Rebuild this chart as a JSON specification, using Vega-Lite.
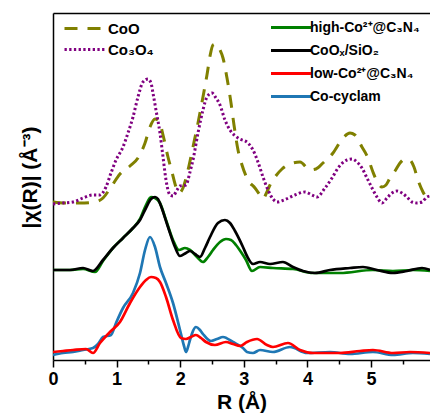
{
  "$schema": "https://vega.github.io/schema/vega-lite/v6.json",
  "width": 377,
  "height": 347,
  "autosize": {"type": "none"},
  "padding": {"left": 53, "top": 13, "right": 0, "bottom": 53},
  "background": "white",
  "config": {"view": {"stroke": null}, "font": "Liberation Sans"},
  "datasets": {
    "ref": [
      {"s":"CoO","r":0,"y":158},{"s":"CoO","r":0.189,"y":157},{"s":"CoO","r":0.425,"y":157},{"s":"CoO","r":0.66,"y":158},{"s":"CoO","r":0.786,"y":162},{"s":"CoO","r":0.912,"y":173},{"s":"CoO","r":1.053,"y":186},{"s":"CoO","r":1.211,"y":194},{"s":"CoO","r":1.336,"y":202},{"s":"CoO","r":1.447,"y":217},{"s":"CoO","r":1.525,"y":233},{"s":"CoO","r":1.604,"y":241},{"s":"CoO","r":1.667,"y":239},{"s":"CoO","r":1.73,"y":225},{"s":"CoO","r":1.808,"y":203},{"s":"CoO","r":1.871,"y":188},{"s":"CoO","r":1.934,"y":173},{"s":"CoO","r":1.981,"y":167},{"s":"CoO","r":2.044,"y":172},{"s":"CoO","r":2.123,"y":190},{"s":"CoO","r":2.201,"y":213},{"s":"CoO","r":2.28,"y":237},{"s":"CoO","r":2.358,"y":263},{"s":"CoO","r":2.421,"y":285},{"s":"CoO","r":2.469,"y":304},{"s":"CoO","r":2.516,"y":315},{"s":"CoO","r":2.563,"y":316},{"s":"CoO","r":2.626,"y":310},{"s":"CoO","r":2.673,"y":302},{"s":"CoO","r":2.736,"y":282},{"s":"CoO","r":2.799,"y":257},{"s":"CoO","r":2.846,"y":235},{"s":"CoO","r":2.909,"y":210},{"s":"CoO","r":2.972,"y":195},{"s":"CoO","r":3.066,"y":180},{"s":"CoO","r":3.176,"y":172},{"s":"CoO","r":3.255,"y":165},{"s":"CoO","r":3.302,"y":161},{"s":"CoO","r":3.349,"y":166},{"s":"CoO","r":3.412,"y":175},{"s":"CoO","r":3.491,"y":183},{"s":"CoO","r":3.601,"y":191},{"s":"CoO","r":3.726,"y":196},{"s":"CoO","r":3.884,"y":198},{"s":"CoO","r":4.041,"y":190},{"s":"CoO","r":4.135,"y":191},{"s":"CoO","r":4.245,"y":197},{"s":"CoO","r":4.403,"y":207},{"s":"CoO","r":4.56,"y":222},{"s":"CoO","r":4.67,"y":227},{"s":"CoO","r":4.748,"y":225},{"s":"CoO","r":4.858,"y":213},{"s":"CoO","r":4.953,"y":202},{"s":"CoO","r":5.031,"y":188},{"s":"CoO","r":5.11,"y":177},{"s":"CoO","r":5.173,"y":173},{"s":"CoO","r":5.236,"y":175},{"s":"CoO","r":5.299,"y":182},{"s":"CoO","r":5.377,"y":189},{"s":"CoO","r":5.456,"y":197},{"s":"CoO","r":5.535,"y":201},{"s":"CoO","r":5.613,"y":200},{"s":"CoO","r":5.676,"y":193},{"s":"CoO","r":5.739,"y":180},{"s":"CoO","r":5.818,"y":168},{"s":"CoO","r":5.896,"y":160},{"s":"CoO","r":5.928,"y":158},
      {"s":"Co₃O₄","r":0,"y":156},{"s":"Co₃O₄","r":0.157,"y":157},{"s":"Co₃O₄","r":0.314,"y":158},{"s":"Co₃O₄","r":0.472,"y":162},{"s":"Co₃O₄","r":0.629,"y":165},{"s":"Co₃O₄","r":0.739,"y":165},{"s":"Co₃O₄","r":0.833,"y":173},{"s":"Co₃O₄","r":0.912,"y":187},{"s":"Co₃O₄","r":0.991,"y":200},{"s":"Co₃O₄","r":1.101,"y":213},{"s":"Co₃O₄","r":1.179,"y":227},{"s":"Co₃O₄","r":1.258,"y":243},{"s":"Co₃O₄","r":1.336,"y":263},{"s":"Co₃O₄","r":1.415,"y":278},{"s":"Co₃O₄","r":1.494,"y":281},{"s":"Co₃O₄","r":1.541,"y":277},{"s":"Co₃O₄","r":1.572,"y":267},{"s":"Co₃O₄","r":1.619,"y":250},{"s":"Co₃O₄","r":1.682,"y":227},{"s":"Co₃O₄","r":1.73,"y":203},{"s":"Co₃O₄","r":1.777,"y":180},{"s":"Co₃O₄","r":1.84,"y":165},{"s":"Co₃O₄","r":1.887,"y":164},{"s":"Co₃O₄","r":1.95,"y":170},{"s":"Co₃O₄","r":1.997,"y":174},{"s":"Co₃O₄","r":2.091,"y":175},{"s":"Co₃O₄","r":2.154,"y":188},{"s":"Co₃O₄","r":2.201,"y":200},{"s":"Co₃O₄","r":2.28,"y":227},{"s":"Co₃O₄","r":2.358,"y":250},{"s":"Co₃O₄","r":2.421,"y":263},{"s":"Co₃O₄","r":2.5,"y":267},{"s":"Co₃O₄","r":2.563,"y":262},{"s":"Co₃O₄","r":2.626,"y":255},{"s":"Co₃O₄","r":2.704,"y":240},{"s":"Co₃O₄","r":2.783,"y":230},{"s":"Co₃O₄","r":2.909,"y":222},{"s":"Co₃O₄","r":3.066,"y":217},{"s":"Co₃O₄","r":3.145,"y":210},{"s":"Co₃O₄","r":3.223,"y":198},{"s":"Co₃O₄","r":3.302,"y":183},{"s":"Co₃O₄","r":3.381,"y":170},{"s":"Co₃O₄","r":3.459,"y":161},{"s":"Co₃O₄","r":3.522,"y":158},{"s":"Co₃O₄","r":3.632,"y":160},{"s":"Co₃O₄","r":3.805,"y":165},{"s":"Co₃O₄","r":3.962,"y":168},{"s":"Co₃O₄","r":4.072,"y":165},{"s":"Co₃O₄","r":4.151,"y":163},{"s":"Co₃O₄","r":4.277,"y":172},{"s":"Co₃O₄","r":4.387,"y":182},{"s":"Co₃O₄","r":4.481,"y":192},{"s":"Co₃O₄","r":4.623,"y":200},{"s":"Co₃O₄","r":4.701,"y":201},{"s":"Co₃O₄","r":4.78,"y":198},{"s":"Co₃O₄","r":4.858,"y":192},{"s":"Co₃O₄","r":4.937,"y":182},{"s":"Co₃O₄","r":5.016,"y":172},{"s":"Co₃O₄","r":5.094,"y":163},{"s":"Co₃O₄","r":5.173,"y":157},{"s":"Co₃O₄","r":5.252,"y":162},{"s":"Co₃O₄","r":5.33,"y":167},{"s":"Co₃O₄","r":5.409,"y":169},{"s":"Co₃O₄","r":5.487,"y":167},{"s":"Co₃O₄","r":5.566,"y":163},{"s":"Co₃O₄","r":5.645,"y":158},{"s":"Co₃O₄","r":5.723,"y":157},{"s":"Co₃O₄","r":5.802,"y":158},{"s":"Co₃O₄","r":5.881,"y":163},{"s":"Co₃O₄","r":5.928,"y":164}
    ],
    "sam": [
      {"s":"high-Co²⁺@C₃N₄","r":0,"y":90},{"s":"high-Co²⁺@C₃N₄","r":0.267,"y":90},{"s":"high-Co²⁺@C₃N₄","r":0.472,"y":91},{"s":"high-Co²⁺@C₃N₄","r":0.66,"y":88},{"s":"high-Co²⁺@C₃N₄","r":0.786,"y":99},{"s":"high-Co²⁺@C₃N₄","r":0.943,"y":112},{"s":"high-Co²⁺@C₃N₄","r":1.101,"y":122},{"s":"high-Co²⁺@C₃N₄","r":1.258,"y":132},{"s":"high-Co²⁺@C₃N₄","r":1.368,"y":141},{"s":"high-Co²⁺@C₃N₄","r":1.462,"y":155},{"s":"high-Co²⁺@C₃N₄","r":1.541,"y":163},{"s":"high-Co²⁺@C₃N₄","r":1.604,"y":162},{"s":"high-Co²⁺@C₃N₄","r":1.682,"y":157},{"s":"high-Co²⁺@C₃N₄","r":1.777,"y":140},{"s":"high-Co²⁺@C₃N₄","r":1.887,"y":120},{"s":"high-Co²⁺@C₃N₄","r":1.981,"y":110},{"s":"high-Co²⁺@C₃N₄","r":2.075,"y":112},{"s":"high-Co²⁺@C₃N₄","r":2.154,"y":110},{"s":"high-Co²⁺@C₃N₄","r":2.264,"y":103},{"s":"high-Co²⁺@C₃N₄","r":2.358,"y":98},{"s":"high-Co²⁺@C₃N₄","r":2.437,"y":103},{"s":"high-Co²⁺@C₃N₄","r":2.516,"y":110},{"s":"high-Co²⁺@C₃N₄","r":2.626,"y":118},{"s":"high-Co²⁺@C₃N₄","r":2.72,"y":121},{"s":"high-Co²⁺@C₃N₄","r":2.799,"y":120},{"s":"high-Co²⁺@C₃N₄","r":2.877,"y":115},{"s":"high-Co²⁺@C₃N₄","r":2.956,"y":108},{"s":"high-Co²⁺@C₃N₄","r":3.035,"y":100},{"s":"high-Co²⁺@C₃N₄","r":3.129,"y":89},{"s":"high-Co²⁺@C₃N₄","r":3.255,"y":93},{"s":"high-Co²⁺@C₃N₄","r":3.459,"y":92},{"s":"high-Co²⁺@C₃N₄","r":3.774,"y":91},{"s":"high-Co²⁺@C₃N₄","r":4.088,"y":87},{"s":"high-Co²⁺@C₃N₄","r":4.513,"y":87},{"s":"high-Co²⁺@C₃N₄","r":5.031,"y":90},{"s":"high-Co²⁺@C₃N₄","r":5.346,"y":89},{"s":"high-Co²⁺@C₃N₄","r":5.66,"y":90},{"s":"high-Co²⁺@C₃N₄","r":5.928,"y":89},
      {"s":"CoOₓ/SiO₂","r":0,"y":90},{"s":"CoOₓ/SiO₂","r":0.267,"y":90},{"s":"CoOₓ/SiO₂","r":0.472,"y":92},{"s":"CoOₓ/SiO₂","r":0.629,"y":89},{"s":"CoOₓ/SiO₂","r":0.786,"y":100},{"s":"CoOₓ/SiO₂","r":0.943,"y":112},{"s":"CoOₓ/SiO₂","r":1.101,"y":122},{"s":"CoOₓ/SiO₂","r":1.258,"y":132},{"s":"CoOₓ/SiO₂","r":1.368,"y":140},{"s":"CoOₓ/SiO₂","r":1.462,"y":152},{"s":"CoOₓ/SiO₂","r":1.541,"y":161},{"s":"CoOₓ/SiO₂","r":1.604,"y":163},{"s":"CoOₓ/SiO₂","r":1.651,"y":161},{"s":"CoOₓ/SiO₂","r":1.698,"y":154},{"s":"CoOₓ/SiO₂","r":1.808,"y":133},{"s":"CoOₓ/SiO₂","r":1.918,"y":113},{"s":"CoOₓ/SiO₂","r":1.997,"y":104},{"s":"CoOₓ/SiO₂","r":2.091,"y":107},{"s":"CoOₓ/SiO₂","r":2.154,"y":109},{"s":"CoOₓ/SiO₂","r":2.233,"y":106},{"s":"CoOₓ/SiO₂","r":2.311,"y":103},{"s":"CoOₓ/SiO₂","r":2.39,"y":112},{"s":"CoOₓ/SiO₂","r":2.469,"y":123},{"s":"CoOₓ/SiO₂","r":2.594,"y":137},{"s":"CoOₓ/SiO₂","r":2.704,"y":140},{"s":"CoOₓ/SiO₂","r":2.783,"y":137},{"s":"CoOₓ/SiO₂","r":2.862,"y":129},{"s":"CoOₓ/SiO₂","r":2.987,"y":113},{"s":"CoOₓ/SiO₂","r":3.05,"y":104},{"s":"CoOₓ/SiO₂","r":3.145,"y":96},{"s":"CoOₓ/SiO₂","r":3.255,"y":98},{"s":"CoOₓ/SiO₂","r":3.412,"y":96},{"s":"CoOₓ/SiO₂","r":3.616,"y":98},{"s":"CoOₓ/SiO₂","r":3.774,"y":93},{"s":"CoOₓ/SiO₂","r":3.931,"y":89},{"s":"CoOₓ/SiO₂","r":4.119,"y":87},{"s":"CoOₓ/SiO₂","r":4.355,"y":90},{"s":"CoOₓ/SiO₂","r":4.67,"y":92},{"s":"CoOₓ/SiO₂","r":4.874,"y":93},{"s":"CoOₓ/SiO₂","r":5.094,"y":90},{"s":"CoOₓ/SiO₂","r":5.346,"y":87},{"s":"CoOₓ/SiO₂","r":5.566,"y":89},{"s":"CoOₓ/SiO₂","r":5.802,"y":92},{"s":"CoOₓ/SiO₂","r":5.928,"y":90},
      {"s":"Co-cyclam","r":0,"y":5},{"s":"Co-cyclam","r":0.157,"y":7},{"s":"Co-cyclam","r":0.314,"y":8},{"s":"Co-cyclam","r":0.472,"y":10},{"s":"Co-cyclam","r":0.629,"y":12},{"s":"Co-cyclam","r":0.708,"y":16},{"s":"Co-cyclam","r":0.786,"y":23},{"s":"Co-cyclam","r":0.912,"y":25},{"s":"Co-cyclam","r":0.991,"y":37},{"s":"Co-cyclam","r":1.101,"y":52},{"s":"Co-cyclam","r":1.258,"y":67},{"s":"Co-cyclam","r":1.368,"y":87},{"s":"Co-cyclam","r":1.447,"y":110},{"s":"Co-cyclam","r":1.525,"y":123},{"s":"Co-cyclam","r":1.604,"y":113},{"s":"Co-cyclam","r":1.682,"y":93},{"s":"Co-cyclam","r":1.777,"y":77},{"s":"Co-cyclam","r":1.887,"y":57},{"s":"Co-cyclam","r":1.997,"y":30},{"s":"Co-cyclam","r":2.06,"y":14},{"s":"Co-cyclam","r":2.091,"y":8},{"s":"Co-cyclam","r":2.123,"y":13},{"s":"Co-cyclam","r":2.154,"y":20},{"s":"Co-cyclam","r":2.248,"y":33},{"s":"Co-cyclam","r":2.311,"y":30},{"s":"Co-cyclam","r":2.358,"y":26},{"s":"Co-cyclam","r":2.484,"y":19},{"s":"Co-cyclam","r":2.579,"y":21},{"s":"Co-cyclam","r":2.673,"y":23},{"s":"Co-cyclam","r":2.83,"y":18},{"s":"Co-cyclam","r":2.987,"y":12},{"s":"Co-cyclam","r":3.05,"y":8},{"s":"Co-cyclam","r":3.145,"y":7},{"s":"Co-cyclam","r":3.255,"y":10},{"s":"Co-cyclam","r":3.459,"y":8},{"s":"Co-cyclam","r":3.726,"y":13},{"s":"Co-cyclam","r":3.994,"y":7},{"s":"Co-cyclam","r":4.355,"y":8},{"s":"Co-cyclam","r":4.67,"y":6},{"s":"Co-cyclam","r":5.031,"y":8},{"s":"Co-cyclam","r":5.346,"y":5},{"s":"Co-cyclam","r":5.66,"y":7},{"s":"Co-cyclam","r":5.928,"y":6},
      {"s":"low-Co²⁺@C₃N₄","r":0,"y":8},{"s":"low-Co²⁺@C₃N₄","r":0.157,"y":9},{"s":"low-Co²⁺@C₃N₄","r":0.314,"y":10},{"s":"low-Co²⁺@C₃N₄","r":0.519,"y":11},{"s":"low-Co²⁺@C₃N₄","r":0.629,"y":7},{"s":"low-Co²⁺@C₃N₄","r":0.739,"y":17},{"s":"low-Co²⁺@C₃N₄","r":0.896,"y":28},{"s":"low-Co²⁺@C₃N₄","r":1.053,"y":38},{"s":"low-Co²⁺@C₃N₄","r":1.211,"y":57},{"s":"low-Co²⁺@C₃N₄","r":1.368,"y":73},{"s":"low-Co²⁺@C₃N₄","r":1.462,"y":80},{"s":"low-Co²⁺@C₃N₄","r":1.541,"y":83},{"s":"low-Co²⁺@C₃N₄","r":1.619,"y":82},{"s":"low-Co²⁺@C₃N₄","r":1.682,"y":78},{"s":"low-Co²⁺@C₃N₄","r":1.777,"y":63},{"s":"low-Co²⁺@C₃N₄","r":1.887,"y":40},{"s":"low-Co²⁺@C₃N₄","r":2.013,"y":22},{"s":"low-Co²⁺@C₃N₄","r":2.091,"y":21},{"s":"low-Co²⁺@C₃N₄","r":2.17,"y":23},{"s":"low-Co²⁺@C₃N₄","r":2.248,"y":25},{"s":"low-Co²⁺@C₃N₄","r":2.327,"y":22},{"s":"low-Co²⁺@C₃N₄","r":2.406,"y":18},{"s":"low-Co²⁺@C₃N₄","r":2.547,"y":15},{"s":"low-Co²⁺@C₃N₄","r":2.72,"y":18},{"s":"low-Co²⁺@C₃N₄","r":2.83,"y":16},{"s":"low-Co²⁺@C₃N₄","r":2.94,"y":14},{"s":"low-Co²⁺@C₃N₄","r":3.05,"y":18},{"s":"low-Co²⁺@C₃N₄","r":3.208,"y":21},{"s":"low-Co²⁺@C₃N₄","r":3.365,"y":15},{"s":"low-Co²⁺@C₃N₄","r":3.459,"y":13},{"s":"low-Co²⁺@C₃N₄","r":3.695,"y":17},{"s":"low-Co²⁺@C₃N₄","r":3.884,"y":10},{"s":"low-Co²⁺@C₃N₄","r":4.088,"y":7},{"s":"low-Co²⁺@C₃N₄","r":4.513,"y":7},{"s":"low-Co²⁺@C₃N₄","r":4.827,"y":9},{"s":"low-Co²⁺@C₃N₄","r":5.031,"y":10},{"s":"low-Co²⁺@C₃N₄","r":5.346,"y":7},{"s":"low-Co²⁺@C₃N₄","r":5.613,"y":8},{"s":"low-Co²⁺@C₃N₄","r":5.928,"y":7}
    ]
  },
  "layer": [
    {
      "data": {"name": "ref"},
      "mark": {"type": "line", "interpolate": "monotone", "strokeWidth": 3, "strokeCap": "butt", "clip": true},
      "encoding": {
        "x": {"field": "r", "type": "quantitative", "scale": {"domain": [0, 5.928], "nice": false, "zero": false},
          "axis": {"orient": "bottom", "title": "R (Å)", "values": [0, 0.5, 1, 1.5, 2, 2.5, 3, 3.5, 4, 4.5, 5, 5.5],
            "labelExpr": "datum.value % 1 === 0 ? '' + datum.value : ''",
            "tickSize": {"condition": {"test": "datum.value % 1 === 0", "value": 7}, "value": 4},
            "tickColor": "black", "tickWidth": 1.5, "domainColor": "black", "domainWidth": 1.5, "grid": false,
            "labelFont": "Liberation Sans", "labelFontSize": 18, "labelFontWeight": "bold", "labelColor": "black", "labelPadding": 3, "labelFlush": false,
            "titleFont": "Liberation Sans", "titleFontSize": 21, "titleFontWeight": "bold", "titleColor": "black", "titlePadding": 3}},
        "y": {"field": "y", "type": "quantitative", "scale": {"domain": [0, 347], "nice": false},
          "axis": {"title": "|χ(R)| (Å⁻³)", "ticks": false, "labels": false, "grid": false, "domainColor": "black", "domainWidth": 1.5,
            "titleFont": "Liberation Sans", "titleFontSize": 21, "titleFontWeight": "bold", "titleColor": "black", "titlePadding": 13, "titleY": 164}},
        "color": {"field": "s", "type": "nominal", "scale": {"domain": ["CoO", "Co₃O₄"], "range": ["#808000", "#800080"]},
          "legend": {"title": null, "orient": "none", "legendX": 9, "legendY": 8, "symbolType": "M-5,0H5", "symbolSize": 64, "symbolOffset": 15, "symbolStrokeWidth": 3,
            "labelFont": "Liberation Sans", "labelFontSize": 15, "labelFontWeight": "bold", "labelColor": "black", "labelOffset": 16, "rowPadding": 5, "padding": 0, "labelLimit": 300, "gridAlign": "all"}},
        "strokeDash": {"field": "s", "type": "nominal", "scale": {"domain": ["CoO", "Co₃O₄"], "range": [[13, 10], [2.3, 2.4]]},
          "legend": {"title": null, "orient": "none", "legendX": 9, "legendY": 8, "symbolType": "M-5,0H5", "symbolSize": 64, "symbolOffset": 15, "symbolStrokeWidth": 3,
            "labelFont": "Liberation Sans", "labelFontSize": 15, "labelFontWeight": "bold", "labelColor": "black", "labelOffset": 16, "rowPadding": 5, "padding": 0, "labelLimit": 300, "gridAlign": "all"}}
      }
    },
    {
      "data": {"name": "sam"},
      "mark": {"type": "line", "interpolate": "monotone", "strokeWidth": 2.7, "clip": true},
      "encoding": {
        "x": {"field": "r", "type": "quantitative",
          "axis": {"orient": "top", "title": null, "labels": false, "ticks": false, "grid": false, "domainColor": "black", "domainWidth": 1.5}},
        "y": {"field": "y", "type": "quantitative", "axis": null},
        "color": {"field": "s", "type": "nominal",
          "scale": {"domain": ["high-Co²⁺@C₃N₄", "CoOₓ/SiO₂", "low-Co²⁺@C₃N₄", "Co-cyclam"], "range": ["#008000", "#000000", "#ff0000", "#1f77b4"]},
          "legend": {"title": null, "orient": "none", "legendX": 215, "legendY": 7.5, "symbolType": "M-5,0H5", "symbolSize": 64, "symbolOffset": 16, "symbolStrokeWidth": 3,
            "labelFont": "Liberation Sans", "labelFontSize": 14, "labelFontWeight": "bold", "labelColor": "black", "labelOffset": 12, "rowPadding": 9, "padding": 0, "labelLimit": 300, "gridAlign": "all"}}
      }
    }
  ],
  "resolve": {"scale": {"color": "independent", "strokeDash": "independent"}, "axis": {"x": "independent", "y": "independent"}}
}
